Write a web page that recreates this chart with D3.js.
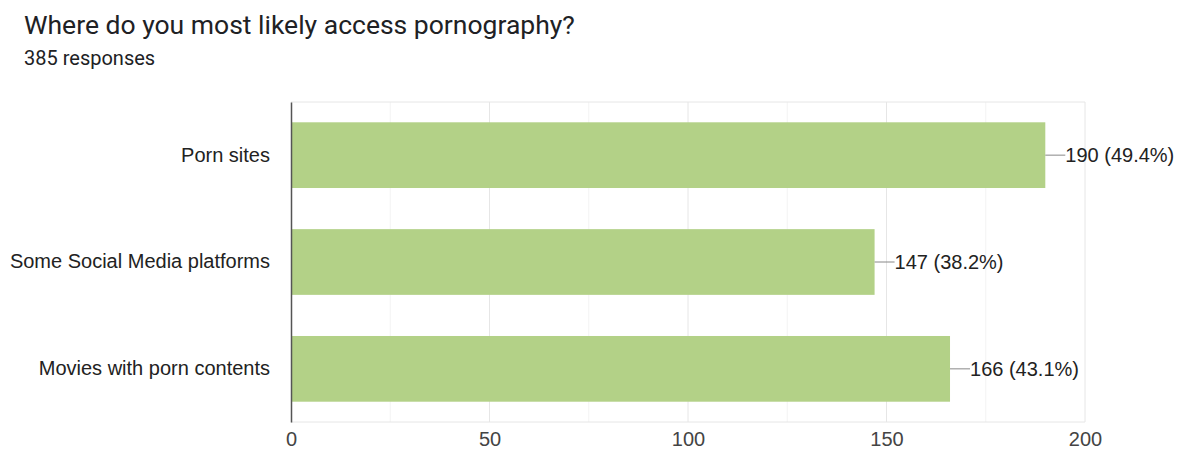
<!DOCTYPE html>
<html>
<head>
<meta charset="utf-8">
<script src="https://cdn.jsdelivr.net/npm/d3@7"></script>
<style>
  html, body { margin: 0; padding: 0; background: #fff; }
  svg { display: block; }
</style>
</head>
<body>
<svg id="chart" width="1181" height="453"></svg>
<script>
const categories = ["Porn sites", "Some Social Media platforms", "Movies with porn contents"];
const counts = [190, 147, 166];
const percents = ["49.4%", "38.2%", "43.1%"];
const tickValues = [0, 50, 100, 150, 200];
const minorTicks = [25, 75, 125, 175];

const svg = d3.select("#chart");
const W = 1181, H = 453;
const margin = { left: 291, right: 96, top: 102, bottom: 31 };
const innerW = W - margin.left - margin.right;
const innerH = H - margin.top - margin.bottom;

// Title and subtitle
svg.append("text")
  .attr("x", 24).attr("y", 34)
  .attr("font-family", "Roboto, sans-serif")
  .attr("font-size", 26.5)
  .attr("fill", "#202124")
  .text("Where do you most likely access pornography?");
svg.append("text")
  .attr("x", 24).attr("y", 65)
  .attr("font-family", "Roboto, sans-serif")
  .attr("font-size", 20)
  .attr("fill", "#202124")
  .text("385 responses");

const g = svg.append("g").attr("transform", `translate(${margin.left},${margin.top})`);

const x = d3.scaleLinear().domain([0, 200]).range([0, innerW]);
const y = d3.scaleBand().domain(categories).range([0, innerH]).paddingInner(0.385).paddingOuter(0.19);

// Grid lines
g.selectAll("line.minor").data(minorTicks).join("line")
  .attr("class", "minor")
  .attr("x1", d => x(d)).attr("x2", d => x(d))
  .attr("y1", 0).attr("y2", innerH)
  .attr("stroke", "#f3f3f3").attr("stroke-width", 1);
g.selectAll("line.major").data(tickValues.slice(1)).join("line")
  .attr("class", "major")
  .attr("x1", d => x(d)).attr("x2", d => x(d))
  .attr("y1", 0).attr("y2", innerH)
  .attr("stroke", "#e6e6e6").attr("stroke-width", 1);
g.append("line")
  .attr("x1", 0).attr("x2", innerW).attr("y1", 0).attr("y2", 0)
  .attr("stroke", "#e6e6e6");
g.append("line")
  .attr("x1", 0).attr("x2", innerW).attr("y1", innerH).attr("y2", innerH)
  .attr("stroke", "#e6e6e6");

// Bars
const rows = categories.map((c, i) => ({ cat: c, v: counts[i], pct: percents[i] }));
g.selectAll("rect.bar").data(rows).join("rect")
  .attr("class", "bar")
  .attr("x", x(0))
  .attr("y", d => y(d.cat))
  .attr("width", d => x(d.v) - x(0))
  .attr("height", y.bandwidth())
  .attr("fill", "#b3d187");

// Value labels with leader lines
g.selectAll("line.leader").data(rows).join("line")
  .attr("class", "leader")
  .attr("x1", d => x(d.v)).attr("x2", d => x(d.v) + 20)
  .attr("y1", d => y(d.cat) + y.bandwidth() / 2)
  .attr("y2", d => y(d.cat) + y.bandwidth() / 2)
  .attr("stroke", "#888").attr("stroke-width", 1);
g.selectAll("text.val").data(rows).join("text")
  .attr("class", "val")
  .attr("x", d => x(d.v) + 20)
  .attr("y", d => y(d.cat) + y.bandwidth() / 2)
  .attr("dy", "0.35em")
  .attr("font-family", "'Liberation Sans', Arial, sans-serif")
  .attr("font-size", 20)
  .attr("fill", "#222")
  .text(d => `${d.v} (${d.pct})`);

// Category axis
const yAxis = g.append("g").call(d3.axisLeft(y).tickSize(0).tickPadding(21));
yAxis.select(".domain").attr("stroke", "#555").attr("stroke-width", 1.5);
yAxis.selectAll("text")
  .attr("font-family", "'Liberation Sans', Arial, sans-serif")
  .attr("font-size", 20)
  .attr("fill", "#222");

// Value axis
const xAxis = g.append("g").attr("transform", `translate(0,${innerH})`)
  .call(d3.axisBottom(x).tickValues(tickValues).tickSize(0).tickPadding(10));
xAxis.select(".domain").remove();
xAxis.selectAll("text")
  .attr("font-family", "'Liberation Sans', Arial, sans-serif")
  .attr("font-size", 20)
  .attr("fill", "#444");
</script>
</body>
</html>
